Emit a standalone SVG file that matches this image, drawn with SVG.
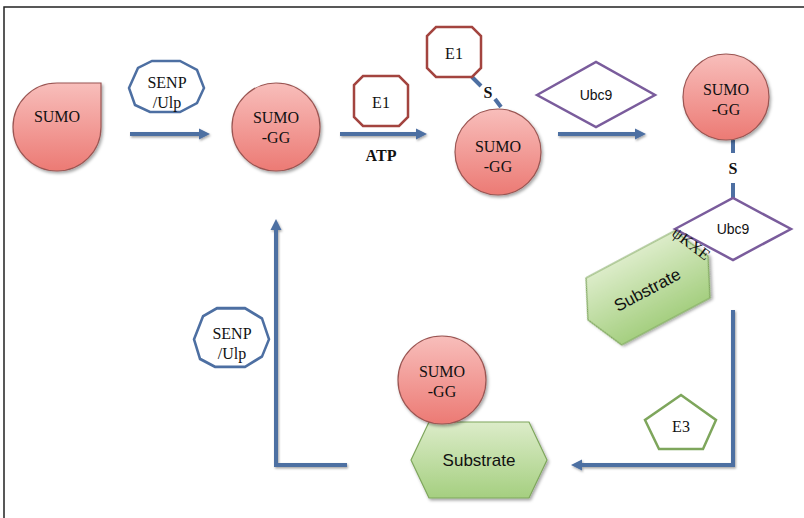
<svg xmlns="http://www.w3.org/2000/svg" width="804" height="518" viewBox="0 0 804 518">
<defs>
<linearGradient id="gRed" x1="0" y1="0" x2="0" y2="1">
<stop offset="0" stop-color="#f8bebb"/><stop offset="1" stop-color="#ec7a74"/>
</linearGradient>
<linearGradient id="gGreen" x1="0" y1="0" x2="0" y2="1">
<stop offset="0" stop-color="#dcecc9"/><stop offset="1" stop-color="#a5cf80"/>
</linearGradient>
<filter id="sh" x="-20%" y="-20%" width="150%" height="150%">
<feDropShadow dx="1.5" dy="2" stdDeviation="1.5" flood-color="#000" flood-opacity="0.35"/>
</filter>
<filter id="shl" filterUnits="userSpaceOnUse" x="0" y="0" width="804" height="518">
<feDropShadow dx="1" dy="1.5" stdDeviation="1.2" flood-color="#000" flood-opacity="0.35"/>
</filter>
<marker id="ah" markerUnits="userSpaceOnUse" markerWidth="14" markerHeight="14" viewBox="0 0 14 14" refX="2" refY="7" orient="auto">
<path d="M0,1.5 L11,7 L0,12.5 Z" fill="#4d6fa2"/>
</marker>
<polygon id="oct" points="-38,2 -29,-18 -15,-25 13,-25 30,-16 37,2 30,17 13,26 -17,26 -32,19"/>
<polygon id="e1" points="-18,-25 18,-25 27,-16 27,16 18,25 -18,25 -27,16 -27,-16"/>
<polygon id="hex" points="-68,0 -50,-38 50,-38 68,0 50,38 -50,38"/>
</defs>
<style>
.frame{stroke:#222;stroke-width:1.5;fill:none}
.sumo{fill:url(#gRed);stroke:#9a5552;stroke-width:1.2;filter:url(#sh)}
.sub{fill:url(#gGreen);stroke:#7ea65c;stroke-width:1.2;filter:url(#sh)}
.senp{fill:#fff;stroke:#4d6fa2;stroke-width:2.5}
.e1{fill:#fff;stroke:#a3443f;stroke-width:2.5}
.ubc{fill:#fff;stroke:#7a5c9c;stroke-width:2.5}
.e3{fill:#fff;stroke:#7ea65c;stroke-width:2.5}
.conn{stroke:#4d6fa2;stroke-width:4;fill:none;filter:url(#shl)}
.arr{marker-end:url(#ah)}
.serif{font-family:"Liberation Serif","DejaVu Serif",serif;font-size:16px;fill:#111;text-anchor:middle}
.sans{font-family:"Liberation Sans",Arial,sans-serif;fill:#111;text-anchor:middle}
.bold{font-weight:bold}
</style>
<rect width="804" height="518" fill="#fff"/>
<path class="frame" d="M4,518 L4,7 L804,7"/>

<g id="connectors">
<line class="conn arr" x1="130" y1="134" x2="201" y2="134"/>
<line class="conn arr" x1="340" y1="134" x2="418" y2="134"/>
<line class="conn arr" x1="558" y1="134" x2="637" y2="134"/>
<path class="conn arr" d="M733,310 L733,465 L580,465"/>
<path class="conn arr" d="M347,465 L276,465 L276,228"/>
<line x1="472" y1="77" x2="481" y2="86" stroke="#4d6fa2" stroke-width="4"/>
<line x1="495" y1="99" x2="501" y2="107" stroke="#4d6fa2" stroke-width="4"/>
<line x1="733" y1="140" x2="733" y2="153" stroke="#4d6fa2" stroke-width="4"/>
<line x1="733" y1="183" x2="733" y2="199" stroke="#4d6fa2" stroke-width="4"/>
</g>

<g id="sumo1">
<path class="sumo" d="M13,127 A44,44 0 0 1 57,83 L101,83 L101,127 A44,44 0 0 1 57,171 A44,44 0 0 1 13,127 Z"/>
<text class="serif" x="57" y="122">SUMO</text>
</g>

<g id="senp1">
<use href="#oct" class="senp" transform="translate(167,86)"/>
<text class="serif" x="167" y="88">SENP</text>
<text class="serif" x="167" y="108">/Ulp</text>
</g>

<g id="sumogg1">
<circle class="sumo" cx="276" cy="127" r="44"/>
<text class="serif" x="276" y="123">SUMO</text>
<text class="serif" x="276" y="143">-GG</text>
</g>

<g id="e1a">
<use href="#e1" class="e1" transform="translate(381,101)"/>
<text class="serif" x="381" y="108">E1</text>
</g>
<text class="serif bold" x="381" y="161">ATP</text>

<g id="e1b">
<use href="#e1" class="e1" transform="translate(454,52)"/>
<text class="serif" x="454" y="59">E1</text>
</g>
<text class="serif bold" x="488" y="98">S</text>

<g id="sumogg2">
<circle class="sumo" cx="498" cy="152" r="43"/>
<text class="serif" x="498" y="152">SUMO</text>
<text class="serif" x="498" y="172">-GG</text>
</g>

<g id="ubc9a">
<polygon class="ubc" points="537,95 596,62 655,95 596,127"/>
<text class="sans" font-size="14" x="596" y="100">Ubc9</text>
</g>

<g id="sumogg3">
<circle class="sumo" cx="726" cy="97" r="43"/>
<text class="serif" x="726" y="95">SUMO</text>
<text class="serif" x="726" y="115">-GG</text>
</g>
<text class="serif bold" x="733" y="174">S</text>

<g id="ubc9b">
<polygon class="ubc" points="675,229 733,198 791,229 733,260"/>
<text class="sans" font-size="14" x="733" y="234">Ubc9</text>
</g>

<g id="substrate1">
<use href="#hex" class="sub" transform="translate(648,288) rotate(-28)"/>
<text class="sans" font-size="17" transform="translate(650,295) rotate(-28)">Substrate</text>
<text class="serif" font-size="14" transform="translate(688,248) rotate(37)">ψKXE</text>
</g>

<g id="senp2">
<use href="#oct" class="senp" transform="translate(232,337) scale(1,1.15)"/>
<text class="serif" x="232" y="339">SENP</text>
<text class="serif" x="232" y="359">/Ulp</text>
</g>

<g id="substrate2">
<use href="#hex" class="sub" transform="translate(479,460)"/>
<text class="sans" font-size="17" x="479" y="466">Substrate</text>
</g>

<g id="sumogg4">
<circle class="sumo" cx="442" cy="380" r="44"/>
<text class="serif" x="442" y="377">SUMO</text>
<text class="serif" x="442" y="397">-GG</text>
</g>

<g id="e3">
<polygon class="e3" points="681,395 716,420 703,449 659,449 645,420"/>
<text class="serif" x="681" y="432">E3</text>
</g>
</svg>
